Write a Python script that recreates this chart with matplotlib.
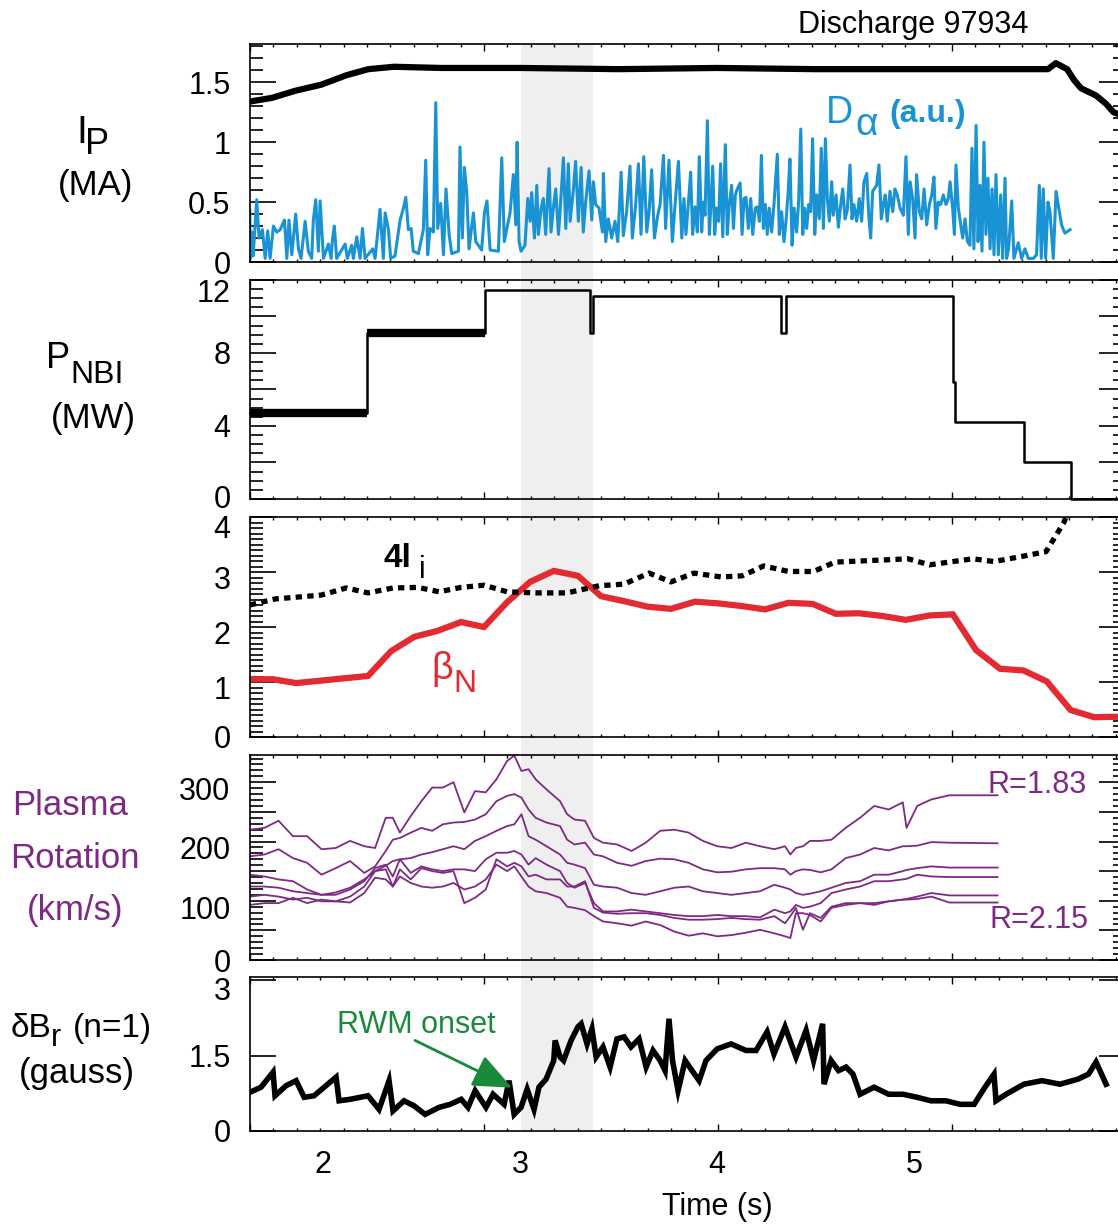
import numpy as np
import matplotlib
matplotlib.use("Agg")
import matplotlib.pyplot as plt
from matplotlib.ticker import MultipleLocator, FixedLocator, FuncFormatter, NullLocator
from matplotlib.transforms import blended_transform_factory, ScaledTranslation
from matplotlib.patches import Rectangle

plt.rcParams['font.family'] = ['Liberation Sans', 'DejaVu Sans']

W, H = 1118, 1227
BLUE = '#1a93d4'
RED = '#e32a31'
PURPLE = '#7e2a84'
GREEN = '#198a3c'

# ---- data (time in s) ----
time_ticks = [2, 3, 4, 5]
band_t = (3.005, 3.371)   # shaded interval

ip_t = [1.63, 1.74, 1.86, 1.99, 2.12, 2.23, 2.36, 2.6, 3.0, 3.5, 4.0, 4.5, 5.0, 5.5,
        5.68, 5.72, 5.777, 5.812, 5.848, 5.924, 5.975, 6.013, 6.046, 6.071]
ip_v = [1.34, 1.37, 1.43, 1.48, 1.56, 1.61, 1.63, 1.62, 1.62, 1.61, 1.62, 1.61, 1.61, 1.61,
        1.61, 1.66, 1.61, 1.52, 1.45, 1.39, 1.32, 1.25, 1.23, 1.22]

# D-alpha trace, (time, a.u.)
dalpha = [
    (1.628, 0.43), (1.630, 0.03), (1.638, 0.25), (1.645, 0.05), (1.663, 0.52), (1.675, 0.20),
    (1.692, 0.27), (1.706, 0.03), (1.719, 0.26), (1.731, 0.03), (1.748, 0.30), (1.765, 0.25),
    (1.782, 0.27), (1.804, 0.35), (1.816, 0.03), (1.827, 0.35), (1.841, 0.06), (1.861, 0.40),
    (1.875, 0.11), (1.888, 0.03), (1.909, 0.34), (1.925, 0.09), (1.942, 0.03), (1.951, 0.36),
    (1.963, 0.52), (1.976, 0.09), (1.985, 0.51), (2.002, 0.03), (2.027, 0.15), (2.041, 0.03),
    (2.047, 0.18), (2.057, 0.30), (2.069, 0.03), (2.112, 0.15), (2.123, 0.03), (2.145, 0.14),
    (2.154, 0.03), (2.171, 0.21), (2.188, 0.03), (2.200, 0.28), (2.213, 0.03), (2.252, 0.11),
    (2.264, 0.03), (2.289, 0.44), (2.306, 0.03), (2.315, 0.41), (2.332, 0.27), (2.343, 0.03),
    (2.365, 0.05), (2.391, 0.35), (2.408, 0.45), (2.420, 0.54), (2.433, 0.27), (2.447, 0.28),
    (2.458, 0.09), (2.484, 0.07), (2.509, 0.27), (2.521, 0.85), (2.531, 0.06), (2.543, 0.28),
    (2.560, 0.25), (2.572, 1.33), (2.582, 0.28), (2.597, 0.49), (2.611, 0.06), (2.624, 0.61),
    (2.640, 0.23), (2.653, 0.07), (2.687, 0.09), (2.695, 0.96), (2.707, 0.20), (2.717, 0.79),
    (2.729, 0.59), (2.741, 0.11), (2.763, 0.41), (2.775, 0.17), (2.805, 0.10), (2.819, 0.41),
    (2.832, 0.51), (2.848, 0.10), (2.890, 0.09), (2.907, 0.87), (2.920, 0.17), (2.937, 0.31),
    (2.949, 0.41), (2.966, 0.73), (2.978, 0.31), (2.985, 1.00), (2.995, 0.17), (3.005, 0.09),
    (3.025, 0.14), (3.039, 0.53), (3.051, 0.34), (3.059, 0.58), (3.073, 0.20), (3.085, 0.64),
    (3.093, 0.23), (3.107, 0.45), (3.118, 0.53), (3.130, 0.23), (3.147, 0.78), (3.157, 0.25),
    (3.169, 0.45), (3.181, 0.61), (3.195, 0.23), (3.203, 0.42), (3.220, 0.87), (3.232, 0.28),
    (3.245, 0.82), (3.254, 0.34), (3.271, 0.61), (3.282, 0.84), (3.296, 0.34), (3.310, 0.79),
    (3.321, 0.25), (3.333, 0.50), (3.350, 0.76), (3.364, 0.35), (3.372, 0.67), (3.384, 0.48),
    (3.401, 0.45), (3.418, 0.25), (3.423, 0.74), (3.435, 0.17), (3.448, 0.36), (3.465, 0.20),
    (3.482, 0.34), (3.496, 0.17), (3.513, 0.75), (3.524, 0.22), (3.541, 0.42), (3.558, 0.80),
    (3.570, 0.20), (3.587, 0.48), (3.601, 0.82), (3.614, 0.23), (3.628, 0.88), (3.643, 0.25),
    (3.655, 0.42), (3.668, 0.77), (3.682, 0.20), (3.699, 0.39), (3.711, 0.48), (3.728, 0.89),
    (3.739, 0.28), (3.756, 0.85), (3.773, 0.17), (3.787, 0.48), (3.804, 0.84), (3.821, 0.20),
    (3.832, 0.53), (3.842, 0.23), (3.854, 0.48), (3.866, 0.75), (3.876, 0.23), (3.888, 0.46),
    (3.900, 0.25), (3.910, 0.88), (3.922, 0.25), (3.930, 0.50), (3.939, 0.39), (3.951, 1.18),
    (3.961, 0.23), (3.968, 0.45), (3.978, 0.80), (3.988, 0.23), (3.998, 0.45), (4.008, 0.34),
    (4.018, 0.82), (4.029, 0.21), (4.042, 0.98), (4.052, 0.23), (4.062, 0.48), (4.074, 0.64),
    (4.083, 0.28), (4.093, 0.56), (4.103, 0.61), (4.117, 0.66), (4.127, 0.23), (4.137, 0.53),
    (4.147, 0.54), (4.159, 0.28), (4.171, 0.53), (4.181, 0.23), (4.194, 0.45), (4.205, 0.46),
    (4.215, 0.34), (4.225, 0.89), (4.235, 0.28), (4.245, 0.48), (4.255, 0.23), (4.265, 0.45),
    (4.277, 0.25), (4.289, 0.48), (4.306, 0.90), (4.316, 0.23), (4.328, 0.42), (4.340, 0.17),
    (4.350, 0.34), (4.360, 0.56), (4.370, 0.86), (4.381, 0.14), (4.391, 0.45), (4.404, 0.25),
    (4.414, 0.50), (4.425, 1.11), (4.435, 0.23), (4.445, 0.45), (4.455, 0.28), (4.465, 0.48),
    (4.475, 0.42), (4.485, 1.03), (4.496, 0.23), (4.506, 0.56), (4.519, 0.36), (4.529, 0.95),
    (4.540, 0.28), (4.550, 1.03), (4.560, 0.53), (4.570, 0.34), (4.582, 0.67), (4.590, 0.39),
    (4.604, 0.56), (4.616, 0.29), (4.628, 0.48), (4.638, 0.61), (4.650, 0.36), (4.661, 0.43),
    (4.675, 0.81), (4.685, 0.36), (4.695, 0.48), (4.709, 0.34), (4.722, 0.53), (4.734, 0.34),
    (4.746, 0.67), (4.760, 0.74), (4.770, 0.39), (4.780, 0.20), (4.790, 0.59), (4.810, 0.64),
    (4.822, 0.81), (4.834, 0.36), (4.844, 0.48), (4.854, 0.56), (4.864, 0.34), (4.878, 0.59),
    (4.892, 0.42), (4.903, 0.61), (4.915, 0.56), (4.929, 0.45), (4.946, 0.39), (4.959, 0.88),
    (4.971, 0.23), (4.980, 0.67), (4.993, 0.53), (5.005, 0.20), (5.013, 0.73), (5.027, 0.42),
    (5.039, 0.36), (5.051, 0.61), (5.064, 0.31), (5.078, 0.48), (5.090, 0.56), (5.101, 0.71),
    (5.111, 0.28), (5.123, 0.50), (5.135, 0.48), (5.149, 0.56), (5.162, 0.48), (5.174, 0.53),
    (5.183, 0.67), (5.196, 0.45), (5.205, 0.23), (5.213, 0.81), (5.225, 0.45), (5.237, 0.31),
    (5.247, 0.20), (5.259, 0.36), (5.271, 0.17), (5.284, 0.14), (5.294, 0.95), (5.304, 0.11),
    (5.315, 1.14), (5.325, 0.17), (5.335, 0.64), (5.345, 0.09), (5.355, 1.00), (5.365, 0.23),
    (5.375, 0.70), (5.386, 0.11), (5.396, 0.61), (5.406, 0.06), (5.416, 0.73), (5.428, 0.06),
    (5.440, 0.56), (5.450, 0.03), (5.462, 0.70), (5.470, 0.03), (5.480, 0.11), (5.496, 0.51),
    (5.507, 0.03), (5.529, 0.16), (5.546, 0.03), (5.563, 0.11), (5.580, 0.03), (5.606, 0.03),
    (5.622, 0.06), (5.636, 0.64), (5.646, 0.03), (5.656, 0.61), (5.668, 0.03), (5.680, 0.50),
    (5.690, 0.42), (5.707, 0.03), (5.721, 0.59), (5.732, 0.48), (5.749, 0.31), (5.766, 0.24),
    (5.792, 0.27),
]

pnbi_t = [1.629, 2.223, 2.822, 3.353, 3.370, 4.325, 4.352, 5.198, 5.208, 5.556, 5.795, 6.071]
pnbi_v = [4.7, 9.1, 11.45, 9.1, 11.15, 9.1, 11.15, 6.4, 4.2, 2.0, 0.0, 0.0]

beta_t = [1.629, 1.746, 1.863, 2.228, 2.345, 2.462, 2.581, 2.700, 2.817, 2.934,
          3.051, 3.171, 3.294, 3.411, 3.528, 3.647, 3.766, 3.888, 4.005, 4.127,
          4.244, 4.363, 4.485, 4.603, 4.721, 4.840, 4.958, 5.079, 5.197, 5.315,
          5.437, 5.556, 5.674, 5.795, 5.914, 6.071]
beta_v = [1.05, 1.05, 0.98, 1.11, 1.56, 1.82, 1.93, 2.09, 2.00, 2.45,
          2.82, 3.02, 2.93, 2.56, 2.47, 2.37, 2.33, 2.46, 2.43, 2.38,
          2.32, 2.44, 2.42, 2.24, 2.25, 2.20, 2.13, 2.21, 2.23, 1.58,
          1.24, 1.21, 1.01, 0.49, 0.36, 0.37]

li_t = [1.629, 1.756, 1.990, 2.117, 2.228, 2.355, 2.482, 2.589, 2.700, 2.817,
        2.934, 3.081, 3.239, 3.401, 3.528, 3.655, 3.766, 3.883, 4.020, 4.127,
        4.237, 4.363, 4.490, 4.599, 4.726, 4.853, 4.970, 5.079, 5.198, 5.297,
        5.406, 5.558, 5.670, 5.759, 5.795]
li_v = [2.40, 2.51, 2.58, 2.71, 2.62, 2.71, 2.72, 2.64, 2.72, 2.76,
        2.64, 2.62, 2.62, 2.75, 2.78, 2.98, 2.82, 2.98, 2.91, 2.93,
        3.11, 3.01, 3.01, 3.18, 3.20, 3.22, 3.24, 3.13, 3.19, 3.24,
        3.19, 3.29, 3.37, 3.89, 4.20]

rot_t = [1.629, 1.702, 1.774, 1.847, 1.919, 1.992, 2.064, 2.137, 2.209, 2.264,
         2.318, 2.354, 2.390, 2.445, 2.499, 2.554, 2.608, 2.662, 2.717, 2.771,
         2.826, 2.880, 2.934, 2.971, 3.007, 3.043, 3.079, 3.134, 3.203,
         3.239, 3.276, 3.330, 3.375, 3.421, 3.493, 3.566, 3.638, 3.711, 3.783,
         3.856, 3.928, 4.001, 4.073, 4.146, 4.218, 4.291, 4.345, 4.372, 4.400,
         4.436, 4.472, 4.526, 4.581, 4.653, 4.726, 4.798, 4.871, 4.943, 4.962,
         5.016, 5.088, 5.179, 5.424]
rot_r183 = [220, 223, 235, 209, 209, 187, 189, 201, 192, 189, 240, 240, 215, 243, 268, 291, 291, 300, 249, 285,
            283, 305, 336, 345, 319, 322, 305, 288, 268,
            246, 237, 235, 206, 198, 195, 184, 198, 218, 220, 215, 201, 192, 189, 198, 192, 187, 192, 178, 189,
            192, 201, 201, 203, 223, 240, 260, 254, 266, 223, 260, 271, 278, 278]
rot_r2 = [175, 178, 187, 172, 164, 144, 155, 167, 147, 158, 184, 203, 206, 215, 223, 218, 229, 232, 233, 237,
          246, 268, 277, 280, 274, 254, 240, 232, 226,
          203, 195, 198, 178, 175, 164, 159, 167, 171, 170, 164, 153, 148, 149, 153, 155, 155, 153, 144, 150,
          153, 152, 148, 153, 172, 178, 189, 185, 192, 192, 193, 199, 198, 197]
rot_r3 = [144, 141, 136, 133, 119, 110, 114, 122, 136, 150, 159, 167, 170, 172, 178, 182, 187, 192, 187, 201,
          209, 218, 226, 229, 246, 209, 203, 192, 178,
          164, 161, 155, 127, 124, 122, 113, 110, 116, 122, 124, 116, 113, 110, 113, 116, 127, 122, 119, 113,
          110, 112, 116, 122, 130, 133, 144, 144, 150, 152, 155, 158, 156, 156]
rot_r4 = [124, 124, 122, 116, 113, 110, 110, 119, 133, 155, 161, 141, 170, 147, 158, 153, 150, 153, 153, 150,
          170, 181, 181, 184, 178, 161, 172, 161, 150,
          130, 122, 130, 96, 82, 82, 85, 82, 79, 76, 74, 74, 76, 74, 74, 72, 85, 79, 82, 93,
          88, 90, 96, 113, 119, 124, 133, 133, 136, 137, 144, 141, 140, 140]
rot_r5 = [107, 110, 107, 102, 105, 99, 99, 107, 124, 150, 153, 124, 153, 136, 155, 150, 147, 150, 96, 105,
          119, 170, 158, 164, 158, 141, 144, 136, 136,
          124, 124, 133, 88, 80, 78, 79, 79, 76, 71, 68, 68, 69, 71, 69, 68, 74, 62, 74, 88,
          51, 79, 71, 90, 96, 96, 93, 99, 102, 103, 107, 113, 109, 109]
rot_r215 = [93, 96, 96, 105, 96, 102, 99, 97, 113, 139, 136, 124, 141, 130, 124, 122, 124, 130, 119, 124,
            136, 161, 150, 158, 141, 124, 116, 113, 105,
            90, 88, 84, 74, 65, 62, 58, 65, 59, 48, 41, 45, 40, 42, 46, 51, 45, 40, 37, 79,
            79, 76, 65, 88, 93, 96, 96, 99, 102, 102, 103, 107, 97, 97]
rot_series = [rot_r183, rot_r2, rot_r3, rot_r4, rot_r5, rot_r215]

br_t = [1.629, 1.685, 1.746, 1.756, 1.812, 1.863, 1.904, 1.954, 2.066, 2.081,
        2.137, 2.228, 2.284, 2.335, 2.355, 2.411, 2.462, 2.518, 2.589, 2.645,
        2.701, 2.736, 2.772, 2.827, 2.863, 2.919, 2.944, 2.970, 3.005, 3.036,
        3.071, 3.096, 3.132, 3.171, 3.178, 3.203, 3.221, 3.259, 3.294, 3.310,
        3.340, 3.365, 3.386, 3.421, 3.457, 3.492, 3.528, 3.563, 3.604, 3.640,
        3.675, 3.711, 3.736, 3.756, 3.774, 3.802, 3.838, 3.873, 3.909, 3.944,
        4.000, 4.071, 4.147, 4.198, 4.254, 4.289, 4.345, 4.401, 4.452, 4.490,
        4.536, 4.543, 4.579, 4.617, 4.655, 4.690, 4.726, 4.797, 4.871, 4.944,
        5.015, 5.086, 5.162, 5.234, 5.305, 5.360, 5.406, 5.416, 5.467, 5.558,
        5.650, 5.741, 5.832, 5.886, 5.924, 5.975]
br_v = [0.77, 0.87, 1.17, 0.70, 0.90, 1.00, 0.67, 0.70, 1.07, 0.60,
        0.63, 0.70, 0.43, 1.00, 0.40, 0.60, 0.50, 0.33, 0.47, 0.53,
        0.63, 0.47, 0.80, 0.47, 0.73, 0.53, 1.00, 0.33, 0.47, 0.83,
        0.43, 0.87, 1.03, 1.40, 1.80, 1.47, 1.40, 1.80, 2.07, 2.13,
        1.73, 2.03, 1.47, 1.67, 1.27, 1.83, 1.87, 1.67, 1.83, 1.27,
        1.60, 1.40, 1.20, 2.23, 1.40, 0.80, 1.40, 1.20, 1.00, 1.40,
        1.63, 1.73, 1.60, 1.60, 1.97, 1.53, 2.07, 1.47, 2.00, 1.40,
        2.13, 0.93, 1.40, 1.20, 1.27, 1.13, 0.73, 0.87, 0.73, 0.73,
        0.67, 0.60, 0.60, 0.53, 0.53, 0.87, 1.13, 0.60, 0.73, 0.93,
        1.00, 0.93, 1.03, 1.13, 1.37, 0.93]

rwm_tip = (2.959, 0.86)
rwm_tail = (2.467, 1.80)

# ---- figure ----
fig = plt.figure(figsize=(W / 100, H / 100), dpi=100)


def P(x, y):
    # pixel position -> figure fraction
    return x / W, 1 - y / H


def make_axes(top, bottom):
    ax = fig.add_axes([250 / W, 1 - bottom / H, 875 / W, (bottom - top) / H])
    ax.patch.set_visible(False)
    for s in ax.spines.values():
        s.set_linewidth(1.2)
    return ax


ax1 = make_axes(44, 262)
ax2 = make_axes(280, 499)
ax3 = make_axes(517, 737)
ax4 = make_axes(755, 960)
ax5 = make_axes(977, 1131)
axes = [ax1, ax2, ax3, ax4, ax5]

# shaded interval running through all panels
tr = blended_transform_factory(ax5.transData, fig.transFigure)
fig.patches.append(Rectangle((band_t[0], 1 - 1131 / H), band_t[1] - band_t[0], (1131 - 44) / H,
                             transform=tr, facecolor='#efefef', edgecolor='none', zorder=-5))

xt_major = 1.6294 + 1.1878 * np.arange(4)
xt_minor = 1.6294 + 0.11878 * np.arange(38)
for ax in axes:
    ax.set_xlim(1.629, 6.071)
    ax.xaxis.set_major_locator(FixedLocator(xt_major))
    ax.xaxis.set_minor_locator(FixedLocator(xt_minor))
    ax.tick_params(axis='x', which='both', direction='in', top=True, bottom=True,
                   labelbottom=False, width=1)
    ax.tick_params(axis='x', which='major', length=5)
    ax.tick_params(axis='x', which='minor', length=2.5)
    ax.tick_params(axis='y', which='both', direction='in', left=True, right=True,
                   labelsize=22, pad=14, width=1.2)
    ax.tick_params(axis='y', which='major', length=19)
    ax.tick_params(axis='y', which='minor', length=9)

fmt_g = FuncFormatter(lambda v, p: '%g' % v)

# panel 1: Ip and D-alpha
da_t = [p[0] for p in dalpha]
da_v = [p[1] for p in dalpha]
ax1.plot(da_t, da_v, color=BLUE, lw=2.2, zorder=2)
ax1.plot(ip_t, ip_v, color='k', lw=4.5, zorder=3)
ax1.set_ylim(0, 1.82)
ax1.yaxis.set_major_locator(MultipleLocator(0.5))
ax1.yaxis.set_minor_locator(MultipleLocator(0.1))
ax1.yaxis.set_major_formatter(fmt_g)

# panel 2: NBI power
ax2.step(pnbi_t, pnbi_v, where='post', color='k', lw=1.8, clip_on=False)
ax2.hlines(pnbi_v[:2], pnbi_t[:2], pnbi_t[1:3], color='k', lw=6)
ax2.set_ylim(0, 12)
ax2.yaxis.set_major_locator(MultipleLocator(2))
ax2.yaxis.set_minor_locator(MultipleLocator(0.5))
ax2.yaxis.set_major_formatter(FuncFormatter(lambda v, p: '%d' % v if round(v) % 4 == 0 else ''))

# panel 3: beta_N and 4 li
ax3.plot(beta_t, beta_v, color=RED, lw=4.5, solid_joinstyle='miter')
ax3.plot(li_t, li_v, color='k', lw=3.8, ls=(0, (1.2, 1.0)), dash_capstyle='butt')
ax3.set_ylim(0, 4)
ax3.yaxis.set_major_locator(MultipleLocator(1))
ax3.yaxis.set_minor_locator(MultipleLocator(0.1))

# panel 4: rotation profiles
for series in rot_series:
    ax4.plot(rot_t, series, color=PURPLE, lw=1.3)
ax4.set_ylim(0, 346)
ax4.yaxis.set_major_locator(MultipleLocator(50))
ax4.yaxis.set_minor_locator(MultipleLocator(10))
ax4.yaxis.set_major_formatter(FuncFormatter(lambda v, p: '%d' % v if round(v) % 100 == 0 else ''))

# panel 5: dBr
ax5.plot(br_t, br_v, color='k', lw=4, solid_joinstyle='miter')
ax5.set_ylim(0, 3.06)
ax5.yaxis.set_major_locator(FixedLocator([0, 1.5, 3]))
ax5.yaxis.set_minor_locator(NullLocator())
ax5.yaxis.set_major_formatter(fmt_g)
ax5.annotate('', xy=rwm_tip, xytext=rwm_tail,
             arrowprops=dict(arrowstyle='-|>,head_length=0.4,head_width=0.17', color=GREEN,
                             lw=2, mutation_scale=60, shrinkA=0, shrinkB=0))

sec = ax5.secondary_xaxis('bottom')
sec.set_xticks(time_ticks)
sec.set_xticklabels([str(t) for t in time_ticks])
sec.tick_params(length=0, labelsize=22, pad=14)
sec.spines['bottom'].set_visible(False)
sec.set_xlabel('Time (s)', fontsize=22, labelpad=8)
sec.xaxis.label.set_x((717 - 250) / 875)


# tick labels in the original sit a little below their marks
def shift_labels(ax, dy, targets):
    locs = ax.yaxis.get_majorticklocs()
    ticks = ax.yaxis.get_major_ticks(len(locs))
    for loc, tick in zip(locs, ticks):
        if any(np.isclose(loc, t) for t in targets):
            lab = tick.label1
            lab.set_transform(lab.get_transform() + ScaledTranslation(0, dy / 72, fig.dpi_scale_trans))


shift_labels(ax3, -4, [1, 2, 3])
shift_labels(ax3, -6.5, [4])
shift_labels(ax4, -4.5, [100, 200, 300])
shift_labels(ax2, -7.5, [12])
shift_labels(ax2, 1.5, [0])
shift_labels(ax5, -6, [3])

# ---- texts ----
fig.text(*P(798, 33), 'Discharge 97934', fontsize=22)

fig.text(*P(76, 143), 'I', fontsize=28)
fig.text(*P(85, 154), 'P', fontsize=26)
fig.text(*P(96, 195), '(MA)', fontsize=25, ha='center')

fig.text(*P(46, 368), 'P', fontsize=26)
fig.text(*P(70, 383), 'NBI', fontsize=23)
fig.text(*P(93, 428), '(MW)', fontsize=25, ha='center')

fig.text(*P(70, 815), 'Plasma', fontsize=25, ha='center', color=PURPLE)
fig.text(*P(75, 868), 'Rotation', fontsize=25, ha='center', color=PURPLE)
fig.text(*P(75, 920), '(km/s)', fontsize=25, ha='center', color=PURPLE)

fig.text(*P(11, 1037), 'δB', fontsize=24)
fig.text(*P(51, 1046), 'r', fontsize=22)
fig.text(*P(73, 1037), '(n=1)', fontsize=24)
fig.text(*P(77, 1083), '(gauss)', fontsize=25, ha='center')

fig.text(*P(826, 123), 'D', fontsize=27, color=BLUE)
fig.text(*P(855, 135), 'α', fontsize=28, color=BLUE)
fig.text(*P(889, 122), '(a.u.)', fontsize=23, color=BLUE, fontweight='bold')

fig.text(*P(383, 567), '4l', fontsize=24, fontweight='bold')
fig.text(*P(419, 578), 'i', fontsize=22)

fig.text(*P(431, 679), 'β', fontsize=27, color=RED)
fig.text(*P(453, 692), 'N', fontsize=23, color=RED)

fig.text(*P(987, 785), 'R=1.83', fontsize=22, color=PURPLE, va='center')
fig.text(*P(989, 920), 'R=2.15', fontsize=22, color=PURPLE, va='center')

fig.text(*P(337, 1033), 'RWM onset', fontsize=22, color=GREEN)

fig.savefig('out.png', dpi=100)
